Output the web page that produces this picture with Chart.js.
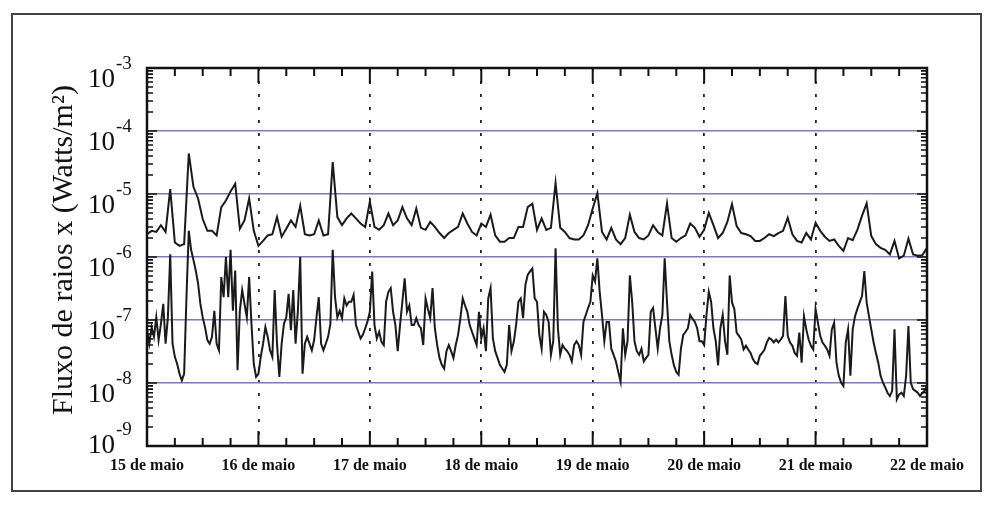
<!DOCTYPE html>
<html>
<head>
<meta charset="utf-8">
<script src="https://cdn.jsdelivr.net/npm/chart.js@4.4.1/dist/chart.umd.min.js"></script>
<style>
  html, body { margin: 0; padding: 0; background: #fff; }
  #wrap { width: 984px; height: 509px; }
</style>
</head>
<body>
<div id="wrap"><canvas id="chart" width="984" height="509"></canvas></div>
<script>
// ================= DATA =================
// day labels (one per 24 h), time axis in hours since 15 May 00:00
const dayLabels = ["15 de maio", "16 de maio", "17 de maio", "18 de maio",
                   "19 de maio", "20 de maio", "21 de maio", "22 de maio"];
const yExponents = [-3, -4, -5, -6, -7, -8, -9];

// long channel (upper curve), W/m², hourly samples h0..h168
const longStep = 1;
const fluxLong = [
  2.3e-6, 2.6e-6, 2.5e-6, 3.2e-6, 2.5e-6, 1.2e-5, 1.7e-6, 1.5e-6, 1.6e-6, 4.4e-5,
  1.3e-5, 8.5e-6, 4.0e-6, 2.6e-6, 2.6e-6, 2.2e-6, 6.2e-6, 7.9e-6, 1.1e-5, 1.45e-5,
  2.8e-6, 3.8e-6, 8.5e-6, 2.6e-6, 1.5e-6, 1.8e-6, 2.2e-6, 2.3e-6, 4.3e-6, 2.1e-6,
  2.8e-6, 3.8e-6, 3.0e-6, 6.5e-6, 2.3e-6, 2.2e-6, 2.3e-6, 3.8e-6, 2.2e-6, 2.3e-6,
  3.2e-5, 4.3e-6, 3.2e-6, 4.1e-6, 4.9e-6, 4.1e-6, 3.4e-6, 3.0e-6, 7.6e-6, 3.0e-6,
  2.7e-6, 3.2e-6, 4.9e-6, 3.2e-6, 3.8e-6, 6.2e-6, 4.1e-6, 3.2e-6, 5.9e-6, 2.9e-6,
  2.7e-6, 3.6e-6, 3.0e-6, 2.4e-6, 2.0e-6, 2.4e-6, 2.7e-6, 3.0e-6, 4.9e-6, 3.4e-6,
  2.5e-6, 2.2e-6, 3.4e-6, 3.0e-6, 4.7e-6, 2.2e-6, 1.75e-6, 1.75e-6, 2.0e-6, 2.0e-6,
  3.0e-6, 3.0e-6, 6.2e-6, 7.0e-6, 2.7e-6, 4.1e-6, 2.7e-6, 2.9e-6, 1.5e-5, 2.9e-6,
  2.5e-6, 2.0e-6, 1.9e-6, 1.9e-6, 2.2e-6, 3.2e-6, 5.9e-6, 1.03e-5, 2.5e-6, 1.9e-6,
  2.9e-6, 1.9e-6, 1.6e-6, 2.0e-6, 4.7e-6, 2.5e-6, 2.0e-6, 1.9e-6, 2.2e-6, 3.2e-6,
  2.5e-6, 2.2e-6, 7.1e-6, 2.0e-6, 1.75e-6, 2.0e-6, 2.2e-6, 3.4e-6, 2.9e-6, 2.1e-6,
  2.7e-6, 5.0e-6, 3.2e-6, 2.0e-6, 2.4e-6, 3.6e-6, 6.9e-6, 3.1e-6, 2.4e-6, 2.3e-6,
  2.15e-6, 1.8e-6, 1.8e-6, 2.0e-6, 2.3e-6, 2.15e-6, 2.4e-6, 2.6e-6, 4.2e-6, 2.3e-6,
  1.8e-6, 1.7e-6, 2.4e-6, 1.9e-6, 3.5e-6, 2.6e-6, 2.1e-6, 1.8e-6, 1.9e-6, 1.5e-6,
  1.25e-6, 2.0e-6, 1.85e-6, 2.7e-6, 4.5e-6, 7.1e-6, 2.15e-6, 1.6e-6, 1.4e-6, 1.3e-6,
  1.1e-6, 1.8e-6, 0.95e-6, 1.05e-6, 1.95e-6, 1.1e-6, 1.05e-6, 1.07e-6, 1.4e-6
];

// short channel (lower curve), W/m², half-hourly samples h0..h168
const shortStep = 0.5;
const fluxShort = [
  6.9e-8, 4.2e-8, 7.7e-8, 5.4e-8, 1.1e-7, 4.8e-8, 8.7e-8, 1.8e-7, 4.2e-8, 1.1e-7,   // 0-4.5
  1.1e-6, 4.2e-8, 2.6e-8, 2.0e-8, 1.4e-8, 1.1e-8, 1.4e-8, 2.3e-7, 2.6e-6, 1.3e-6,   // 5-9.5
  9.0e-7, 6.1e-7, 3.8e-7, 1.8e-7, 1.1e-7, 7.7e-8, 4.8e-8, 4.2e-8, 5.4e-8, 1.4e-7,   // 10-14.5
  4.2e-8, 3.3e-8, 4.8e-7, 2.3e-7, 1.0e-6, 2.3e-7, 1.3e-6, 1.4e-7, 6.1e-7, 1.6e-8,   // 15-19.5
  1.4e-7, 3.0e-7, 1.8e-7, 1.1e-7, 4.8e-7, 8.7e-8, 2.0e-8, 1.25e-8, 1.4e-8, 2.6e-8,  // 20-24.5
  4.2e-8, 7.7e-8, 5.4e-8, 3.3e-8, 2.6e-8, 3.0e-7, 4.2e-8, 1.25e-8, 4.2e-8, 8.7e-8,  // 25-29.5
  1.1e-7, 2.6e-7, 6.9e-8, 3.0e-7, 4.2e-8, 1.4e-7, 1.0e-6, 1.4e-8, 4.2e-8, 5.4e-8,   // 30-34.5
  4.2e-8, 3.3e-8, 4.8e-8, 1.1e-7, 2.3e-7, 4.2e-8, 3.3e-8, 4.2e-8, 5.4e-8, 8.7e-8,   // 35-39.5
  1.3e-6, 2.3e-7, 1.1e-7, 1.4e-7, 1.07e-7, 2.2e-7, 1.7e-7, 1.95e-7, 1.95e-7, 2.5e-7, // 40-44.5
  8.3e-8, 6.5e-8, 5.1e-8, 5.8e-8, 7.4e-8, 9.5e-8, 1.35e-7, 5.9e-7, 8.3e-8, 5.1e-8,  // 45-49.5
  6.5e-8, 4.5e-8, 4.0e-8, 1.95e-7, 2.8e-7, 3.2e-7, 1.35e-7, 8.3e-8, 3.2e-8, 8.3e-8, // 50-54.5
  1.95e-7, 4.6e-7, 1.35e-7, 1.7e-7, 8.3e-8, 8.3e-8, 1.07e-7, 8.3e-8, 7.4e-8, 4.0e-8, // 55-59.5
  2.2e-7, 1.5e-7, 1.07e-7, 3.2e-7, 7.4e-8, 4.0e-8, 2.5e-8, 1.95e-8, 1.7e-8, 3.2e-8, // 60-64.5
  4.0e-8, 3.2e-8, 2.5e-8, 4.0e-8, 5.8e-8, 1.07e-7, 2.2e-7, 1.7e-7, 1.35e-7, 8.3e-8, // 65-69.5
  6.5e-8, 5.1e-8, 4.0e-8, 1.35e-7, 5.1e-8, 7.4e-8, 3.2e-8, 2.2e-7, 3.2e-7, 5.1e-8,  // 70-74.5
  3.2e-8, 2.5e-8, 1.95e-8, 1.7e-8, 1.5e-8, 1.95e-8, 8.3e-8, 3.2e-8, 4.5e-8, 8.3e-8, // 75-79.5
  1.95e-7, 2.2e-7, 1.07e-7, 3.6e-7, 5.2e-7, 5.9e-7, 6.6e-7, 2.2e-7, 1.95e-7, 5.8e-8, // 80-84.5
  3.5e-8, 1.35e-7, 1.2e-7, 9.3e-8, 2.8e-8, 4.6e-8, 1.37e-6, 7.4e-8, 2.8e-8, 4.0e-8, // 85-89.5
  3.5e-8, 3.2e-8, 2.8e-8, 2.2e-8, 4.0e-8, 4.6e-8, 4.0e-8, 2.8e-8, 9.3e-8, 1.2e-7,   // 90-94.5
  1.55e-7, 1.95e-7, 5.1e-7, 4.1e-7, 9.5e-7, 2.8e-7, 1.2e-7, 4.6e-8, 9.3e-8, 9.3e-8, // 95-99.5
  3.5e-8, 2.8e-8, 2.2e-8, 1.5e-8, 1.05e-8, 7.4e-8, 2.8e-8, 4.6e-8, 5.1e-7, 1.95e-7, // 100-104.5
  4.6e-8, 3.2e-8, 2.8e-8, 3.5e-8, 2.2e-8, 2.5e-8, 2.8e-8, 1.35e-7, 1.55e-7, 7.4e-8, // 105-109.5
  3.5e-8, 7.4e-8, 1.2e-7, 9.5e-7, 1.95e-7, 4.6e-8, 2.8e-8, 1.9e-8, 1.5e-8, 1.35e-8, // 110-114.5
  3.5e-8, 5.8e-8, 6.5e-8, 7.4e-8, 1.2e-7, 1.05e-7, 9.3e-8, 7.4e-8, 4.6e-8, 4.6e-8,  // 115-119.5
  4.0e-8, 1.2e-7, 2.8e-7, 1.95e-7, 7.4e-8, 4.6e-8, 1.9e-8, 7.4e-8, 1.2e-7, 4.6e-8,  // 120-124.5
  2.8e-8, 5.1e-7, 1.9e-7, 1.5e-7, 6.3e-8, 5.6e-8, 4.9e-8, 3.4e-8, 3.9e-8, 3.4e-8,   // 125-129.5
  3.0e-8, 2.4e-8, 2.1e-8, 2.0e-8, 2.7e-8, 3.0e-8, 3.4e-8, 4.4e-8, 5.2e-8, 4.9e-8,   // 130-134.5
  4.4e-8, 4.9e-8, 4.4e-8, 4.9e-8, 5.6e-8, 2.4e-7, 5.6e-8, 4.4e-8, 3.9e-8, 3.0e-8,   // 135-139.5
  2.7e-8, 6.3e-8, 2.1e-8, 1.15e-7, 7.1e-8, 4.9e-8, 3.9e-8, 3.4e-8, 1.5e-7, 9.1e-8,  // 140-144.5
  5.6e-8, 4.4e-8, 3.9e-8, 3.4e-8, 2.7e-8, 7.1e-8, 9.1e-8, 2.1e-8, 1.3e-8, 1.02e-8,  // 145-149.5
  9.0e-9, 4.4e-8, 7.1e-8, 1.3e-8, 7.1e-8, 1.15e-7, 1.5e-7, 1.9e-7, 2.4e-7, 6.0e-7,  // 150-154.5
  1.9e-7, 1.15e-7, 7.1e-8, 4.4e-8, 3.0e-8, 2.1e-8, 1.3e-8, 1.02e-8, 8.5e-9, 7.0e-9, // 155-159.5
  6.2e-9, 7.5e-9, 7.1e-8, 5.5e-9, 6.6e-9, 7.0e-9, 6.2e-9, 1.3e-8, 8.0e-8, 1.02e-8,  // 160-164.5
  8.0e-9, 7.5e-9, 7.0e-9, 6.2e-9, 7.0e-9, 7.5e-9, 9.0e-9                            // 165-168
];

const yTitle = "Fluxo de raios x (Watts/m²)";

// ================= HELPERS =================
const SERIF = "'Liberation Serif', 'Times New Roman', serif";
const toPoints = (arr, step) => arr.map((v, i) => ({ x: i * step, y: v }));
const isInnerDecade = v => {
  const e = Math.log10(v);
  return Math.abs(e - Math.round(e)) < 1e-6 && e > -8.5 && e < -3.5;
};

// ================= DECORATIONS =================
const decorations = {
  id: "decorations",
  beforeDraw(chart) {
    const ctx = chart.ctx;
    ctx.save();
    ctx.fillStyle = "#fff";
    ctx.fillRect(0, 0, chart.width, chart.height);
    // scanned page frame
    ctx.strokeStyle = "#444";
    ctx.lineWidth = 2;
    ctx.strokeRect(12, 14, 969, 477);
    ctx.restore();
  },
  afterDatasetsDraw(chart) {
    const { ctx, chartArea: a, scales: { x, y } } = chart;
    ctx.save();
    ctx.strokeStyle = "#111";
    ctx.lineWidth = 2;

    // inward ticks on top and bottom: every 6 h, longer on days
    for (let h = x.min; h <= x.max; h += 6) {
      const px = x.getPixelForValue(h);
      const len = h % 24 === 0 ? 15 : 8;
      ctx.beginPath();
      ctx.moveTo(px, a.bottom); ctx.lineTo(px, a.bottom - len);
      ctx.moveTo(px, a.top); ctx.lineTo(px, a.top + len);
      ctx.stroke();
    }

    // inward log ticks on left and right
    ctx.lineWidth = 1.6;
    yExponents.forEach(e => {
      for (let k = 1; k <= 9; k++) {
        const v = k * Math.pow(10, e - 1);
        if (v < y.min * 0.999) continue;
        const py = y.getPixelForValue(v);
        const len = k === 1 ? 10 : 6;
        ctx.beginPath();
        ctx.moveTo(a.left, py); ctx.lineTo(a.left + len, py);
        ctx.moveTo(a.right, py); ctx.lineTo(a.right - len, py);
        ctx.stroke();
      }
    });

    // plot box
    ctx.lineWidth = 2.5;
    ctx.strokeRect(a.left, a.top, a.right - a.left, a.bottom - a.top);

    // y labels 10^e
    ctx.fillStyle = "#111";
    ctx.textBaseline = "alphabetic";
    yExponents.forEach(e => {
      const py = y.getPixelForValue(Math.pow(10, e));
      const base = Math.min(py + 19, a.bottom + 7);
      ctx.font = `27px ${SERIF}`;
      ctx.textAlign = "right";
      ctx.fillText("10", 115, base);
      ctx.font = `19px ${SERIF}`;
      ctx.textAlign = "left";
      ctx.fillText(String(e), 116, base - 18);
    });

    // y title
    ctx.translate(72, (a.top + a.bottom) / 2 - 7);
    ctx.rotate(-Math.PI / 2);
    ctx.font = `30px ${SERIF}`;
    ctx.textAlign = "center";
    ctx.fillText(yTitle, 0, 0);
    ctx.restore();
  }
};

// ================= CHART =================
new Chart(document.getElementById("chart"), {
  type: "line",
  data: {
    datasets: [
      { label: "0.5-4 Å", data: toPoints(fluxShort, shortStep), borderColor: "#1a1a1a", borderWidth: 2 },
      { label: "1-8 Å", data: toPoints(fluxLong, longStep), borderColor: "#1a1a1a", borderWidth: 2 }
    ]
  },
  options: {
    responsive: false,
    animation: false,
    layout: { padding: { left: 147, right: 57, top: 68, bottom: 0 } },
    elements: { point: { radius: 0 }, line: { tension: 0 } },
    plugins: { legend: { display: false }, tooltip: { enabled: false } },
    scales: {
      x: {
        type: "linear",
        min: 0, max: 168,
        afterFit: s => { s.height = 63; },
        border: { display: false, dash: [3, 10] },
        grid: {
          drawTicks: false,
          lineWidth: 1.8,
          color: c => (c.index === 0 || c.tick.value === 168) ? "rgba(0,0,0,0)" : "#222"
        },
        ticks: {
          stepSize: 24,
          autoSkip: false,
          maxRotation: 0,
          padding: 10,
          color: "#111",
          font: { family: SERIF, size: 16, weight: "bold" },
          callback: v => dayLabels[v / 24]
        }
      },
      y: {
        type: "logarithmic",
        min: 1e-9, max: 1e-3,
        afterFit: s => { s.width = 0; },
        border: { display: false },
        grid: {
          drawTicks: false,
          lineWidth: 1.6,
          color: c => isInnerDecade(c.tick.value) ? "#7b7bb5" : "rgba(0,0,0,0)"
        },
        ticks: { display: false }
      }
    }
  },
  plugins: [decorations]
});
</script>
</body>
</html>
